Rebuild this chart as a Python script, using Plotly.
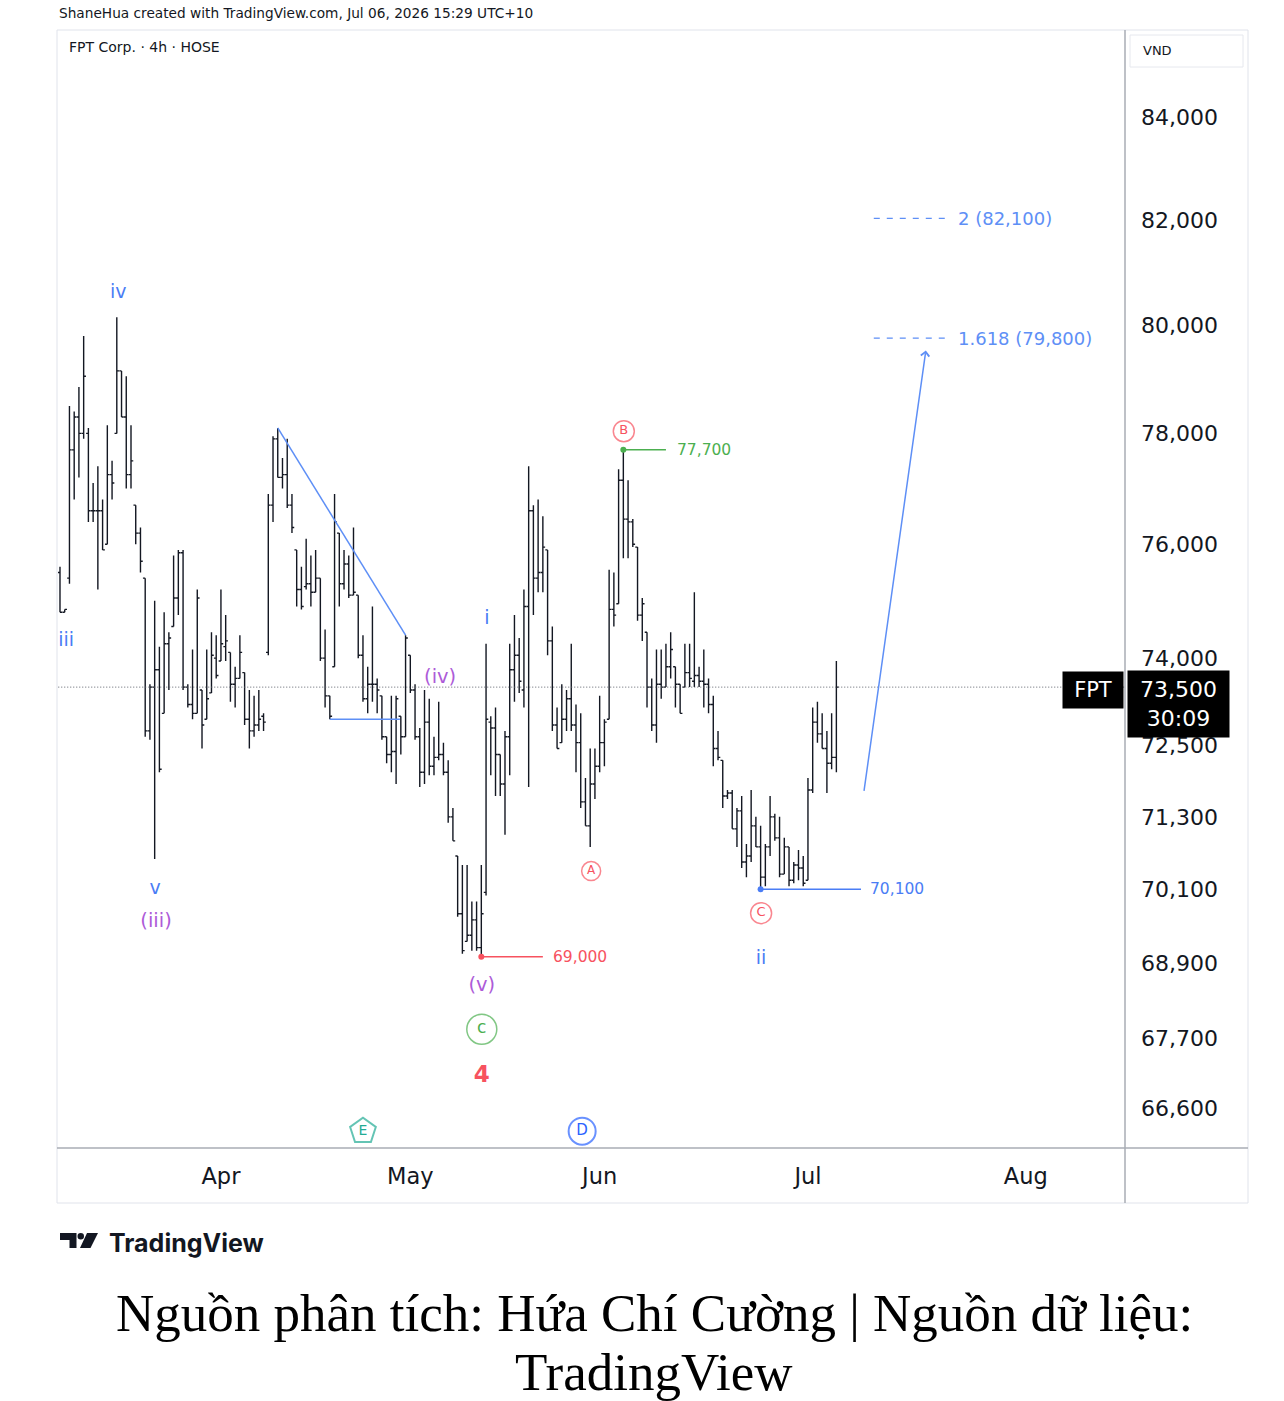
import math
import plotly.graph_objects as go

# ---------------- data ----------------
bar_index = list(range(165))
opens = [75500, 74800, 75400, 77700, 78300, 78000, 78000, 76600, 76600, 76600,
         76000, 77250, 78000, 79150, 78300, 77250, 76700, 76200, 75400, 72750,
         73500, 73800, 73050, 74250, 74550, 75050, 75850, 73500, 73200, 73050,
         73450, 72950, 73400, 74000, 73950, 74200, 74100, 73550, 73650, 73750,
         72950, 72750, 72850, 73000, 74100, 76700, 77900, 77200, 77250, 76700,
         75900, 75200, 75250, 75300, 75150, 75400, 74000, 73350, 73850, 76200,
         75300, 75650, 75100, 75100, 74050, 73300, 73550, 73550, 73350, 72650,
         72350, 72400, 73000, 72650, 74050, 73450, 72650, 72050, 72900, 72150,
         72300, 72350, 72050, 71300, 70650, 69700, 69250, 69350, 69600, 69150,
         70050, 72900, 72800, 72350, 71850, 72650, 73800, 74050, 73450, 74900,
         76600, 75400, 75500, 75900, 74300, 72850, 72550, 72950, 73300, 72850,
         72550, 71550, 71150, 71850, 72150, 72550, 72950, 74850, 74950, 77150,
         76450, 76400, 75950, 74750, 74450, 73500, 72850, 73550, 73500, 73850,
         73850, 73550, 73500, 73750, 73600, 73700, 73600, 73550, 73200, 72450,
         72250, 71650, 71700, 71100, 71400, 70550, 70650, 71150, 70800, 70300,
         70800, 71300, 70950, 70350, 70800, 70250, 70500, 70450, 70250, 71750,
         72900, 72700, 72450, 72200, 72300]
highs = [75600, 74850, 78500, 78400, 78850, 79800, 78100, 77100, 77400, 76800,
         78150, 77500, 80150, 79150, 79050, 78150, 76700, 76300, 75400, 73550,
         75000, 74200, 74800, 74450, 75800, 75900, 75900, 73550, 74150, 75200,
         73450, 74150, 74450, 74400, 75200, 74750, 74100, 73850, 74400, 73750,
         73450, 73350, 73450, 73050, 76900, 77950, 78100, 77550, 77900, 76900,
         75900, 75600, 76100, 75800, 75900, 75400, 74500, 73350, 76900, 76200,
         75900, 75800, 76300, 75100, 74400, 73850, 74900, 73650, 73350, 72650,
         73350, 73350, 73000, 74400, 74050, 73550, 72800, 73450, 73300, 72650,
         73250, 72550, 72250, 71450, 70650, 70500, 70500, 69900, 69900, 70500,
         74250, 73000, 73150, 72350, 72750, 74250, 74750, 74350, 75200, 77400,
         76700, 76800, 76500, 75900, 74550, 73150, 73550, 73450, 74250, 73200,
         73050, 71950, 72450, 72450, 73350, 72950, 75550, 75500, 77350, 77700,
         77150, 76450, 75950, 75050, 74450, 73650, 74150, 74150, 74250, 74450,
         73850, 73550, 74250, 74250, 75150, 73850, 74150, 73650, 73350, 72750,
         72250, 71750, 71750, 71450, 71650, 70850, 71750, 71300, 71150, 70850,
         71650, 71350, 71300, 70950, 70800, 70550, 70750, 70650, 71950, 73150,
         73250, 73050, 72750, 73050, 73950]
lows = [74800, 74800, 75300, 76800, 77200, 77900, 76400, 76400, 75200, 75900,
        76000, 76800, 78000, 78300, 77000, 77000, 76000, 75500, 72650, 72600,
        70600, 72050, 73050, 73450, 74550, 74750, 73450, 73150, 72950, 73050,
        72450, 72950, 73400, 73650, 73950, 73950, 73250, 73150, 73650, 72850,
        72450, 72650, 72750, 72750, 74050, 76400, 77200, 77000, 76650, 76200,
        74900, 74850, 75200, 74900, 75150, 73950, 73150, 72950, 73850, 74900,
        75200, 75050, 75100, 74000, 73250, 73050, 73250, 73050, 72600, 72200,
        72050, 71850, 72350, 72650, 73400, 72600, 71800, 71850, 72000, 72000,
        72250, 72000, 71200, 70900, 69650, 69050, 69250, 69100, 69100, 69000,
        70000, 72000, 71650, 71650, 71000, 72000, 73250, 73400, 73150, 71800,
        74750, 75150, 75150, 74050, 72750, 72450, 72550, 72750, 72750, 72050,
        71450, 71150, 70800, 71600, 72050, 72150, 72950, 74550, 74950, 75750,
        75750, 75950, 74650, 74300, 73150, 72750, 72550, 73300, 73500, 73650,
        73150, 73050, 73500, 73500, 73500, 73500, 73150, 73050, 72150, 72250,
        71450, 71600, 71100, 70800, 70450, 70300, 70550, 70800, 70100, 70150,
        70650, 70900, 70300, 70350, 70150, 70200, 70250, 70150, 70250, 71700,
        72550, 72450, 71700, 72100, 72050]
closes = [74800, 74850, 77700, 78300, 78000, 79050, 76600, 76600, 76600, 75900,
          77250, 77100, 79150, 78300, 77250, 77500, 76200, 75700, 72750, 73500,
          73800, 72100, 74250, 74350, 75050, 75850, 73500, 73200, 73050, 75050,
          72850, 73300, 74050, 73700, 74250, 74300, 73550, 73650, 74100, 72950,
          72750, 72850, 72950, 72900, 76700, 77900, 77200, 77250, 76700, 76300,
          75200, 74900, 75300, 75150, 75400, 74000, 73350, 73000, 76400, 75300,
          75650, 75100, 75150, 74050, 73300, 73550, 73550, 73450, 72650, 72350,
          72400, 73300, 72650, 74350, 73450, 72650, 72050, 72900, 72150, 72300,
          72350, 72050, 71300, 70900, 69700, 69100, 69350, 69600, 69150, 69700,
          72950, 72800, 72350, 71850, 72650, 73800, 74050, 73600, 74900, 76600,
          75400, 75500, 75950, 74300, 72850, 72450, 72950, 73300, 72850, 72550,
          71550, 71150, 71850, 72150, 72550, 72900, 74850, 74750, 77150, 76450,
          76400, 76000, 74750, 74950, 73500, 72850, 73550, 73500, 73850, 74150,
          73550, 73050, 73750, 73650, 73700, 73600, 73550, 73200, 72450, 72300,
          71650, 71700, 71100, 71400, 70550, 70650, 71150, 70800, 70300, 70800,
          71300, 70950, 70350, 70800, 70250, 70500, 70450, 70200, 71750, 72900,
          72700, 72450, 72200, 72300, 73500]

month_ticks = [34, 74, 114, 158, 204]
month_labels = ["Apr", "May", "Jun", "Jul", "Aug"]
price_ticks = [84000, 82000, 80000, 78000, 76000, 74000, 72500, 71300, 70100, 68900, 67700, 66600]
price_tick_text = ["84,000", "82,000", "80,000", "78,000", "76,000", "74,000",
                   "72,500", "71,300", "70,100", "68,900", "67,700", "66,600"]

symbol = "FPT"
last_price = closes[-1]
countdown = "30:09"

# Elliott wave labels: text, bar index, price position
wave_text = ["iii", "iv", "v", "(iii)", "(iv)", "(v)", "i", "ii", "<b>4</b>"]
wave_x = [1.3, 12.3, 20.1, 20.3, 80.3, 89.1, 90.2, 148.1, 89.1]
wave_y = [74300, 80600, 70100, 69570, 73650, 68530, 74670, 68960, 67100]
wave_kind = ["blue", "blue", "blue", "purple", "purple", "purple", "blue", "blue", "red"]

# circled labels
circ_text = ["B", "A", "C", "c"]
circ_x = [119.1, 112.2, 148.1, 89.1]
circ_y = [78040, 70400, 69710, 67840]
circ_kind = ["red", "red", "red", "green"]

# horizontal price levels (start bar, end bar, price, label bar)
level_start = [119, 89, 148]
level_end = [128.0, 102.0, 169.2]
level_price = [77700, 69000, 70100]
level_label_x = [130.0, 103.8, 170.6]
level_kind = ["green", "red", "blue"]

# fibonacci targets (line level, label text as printed)
fib_levels = [82030, 79760]
fib_text = ["2 (82,100)", "1.618 (79,800)"]
fib_start = 171.9
fib_end = 187.2
fib_label_x = 189.3

# projection arrow (bar, price)
arrow_from = (169.8, 71710)
arrow_to = (182.9, 79530)

# trend lines
diag_bars = [46, 73]
flat_bars = [57, 71.8]

# events
event_text = ["E", "D"]
event_x = [64.0, 110.3]
event_y = [66240, 66240]

# ---------------- styling ----------------
COL = {"blue": "#4a7df5", "purple": "#ad5bd8", "red": "#f7525f", "green": "#4caf50"}
FIB = "#5e8ff6"
INK = "#131722"

W, H = 1284, 1401
L, R, T, B = 58, 159, 30, 253
PW, PH = W - L - R, H - T - B


def px(xp):
    return (xp - L) / PW


def py(yp):
    return (H - B - yp) / PH


fig = go.Figure()

fig.add_trace(go.Ohlc(
    x=bar_index, open=opens, high=highs, low=lows, close=closes,
    increasing=dict(line=dict(color=INK, width=1.4)),
    decreasing=dict(line=dict(color=INK, width=1.4)),
    tickwidth=0.48, hoverinfo="skip", showlegend=False))

# last price dotted line
fig.add_trace(go.Scatter(x=[-1, 230], y=[last_price, last_price], mode="lines",
                         line=dict(color="#5d606b", width=1, dash="1px,2px"),
                         hoverinfo="skip", showlegend=False))

# trend lines
fig.add_trace(go.Scatter(x=diag_bars, y=[highs[diag_bars[0]], highs[diag_bars[1]]], mode="lines",
                         line=dict(color=FIB, width=1.5), hoverinfo="skip", showlegend=False))
fig.add_trace(go.Scatter(x=flat_bars, y=[lows[flat_bars[0]], lows[flat_bars[0]]], mode="lines",
                         line=dict(color=FIB, width=1.5), hoverinfo="skip", showlegend=False))

# price levels
for s, e, p, k in zip(level_start, level_end, level_price, level_kind):
    fig.add_trace(go.Scatter(x=[s, e], y=[p, p], mode="lines",
                             line=dict(color=COL[k], width=1.5), hoverinfo="skip", showlegend=False))
    fig.add_trace(go.Scatter(x=[s], y=[p], mode="markers",
                             marker=dict(color=COL[k], size=6), hoverinfo="skip", showlegend=False))

# fib lines
for lv in fib_levels:
    fig.add_trace(go.Scatter(x=[fib_start, fib_end], y=[lv, lv], mode="lines",
                             line=dict(color=FIB, width=1.3, dash="6px,7px"),
                             hoverinfo="skip", showlegend=False))

# wave labels
fig.add_trace(go.Scatter(
    x=wave_x, y=wave_y, mode="text", text=wave_text, textposition="middle center",
    textfont=dict(family="DejaVu Sans", size=[19, 19, 19, 19.5, 19.5, 19.5, 19, 19, 23],
                  color=[COL[k] for k in wave_kind]),
    cliponaxis=False, hoverinfo="skip", showlegend=False))

# circled labels
fig.add_trace(go.Scatter(
    x=circ_x, y=circ_y, mode="markers+text", text=circ_text, textposition="middle center",
    marker=dict(symbol="circle-open", size=[21, 19, 21, 30],
                color=[COL[k] for k in circ_kind], line=dict(width=1.5)),
    textfont=dict(family="DejaVu Sans", size=[13, 12, 13, 17],
                  color=[COL[k] for k in circ_kind]),
    cliponaxis=False, hoverinfo="skip", showlegend=False))

# events
fig.add_trace(go.Scatter(
    x=event_x, y=event_y, mode="markers+text", text=event_text, textposition="middle center",
    marker=dict(symbol=["pentagon-open", "circle-open"], size=[27, 27],
                color=["#22ab94", "#2962ff"], line=dict(width=2)),
    textfont=dict(family="DejaVu Sans", size=[14, 15], color=["#22ab94", "#2962ff"]),
    cliponaxis=False, hoverinfo="skip", showlegend=False))

ann = []
for p, lx, k in zip(level_price, level_label_x, level_kind):
    ann.append(dict(x=lx, y=math.log10(p), xref="x", yref="y", text=f"{p:,}",
                    showarrow=False, xanchor="left", yanchor="middle",
                    font=dict(family="DejaVu Sans", size=15.5, color=COL[k])))
for lv, t in zip(fib_levels, fib_text):
    ann.append(dict(x=fib_label_x, y=math.log10(lv), xref="x", yref="y", text=t,
                    showarrow=False, xanchor="left", yanchor="middle",
                    font=dict(family="DejaVu Sans", size=18, color=FIB)))
# projection arrow
ann.append(dict(x=arrow_to[0], y=math.log10(arrow_to[1]), xref="x", yref="y",
                ax=arrow_from[0], ay=math.log10(arrow_from[1]), axref="x", ayref="y",
                text="", showarrow=True, arrowhead=4, arrowsize=1.1, arrowwidth=1.5,
                arrowcolor=FIB, standoff=0))
# symbol & price boxes
ann.append(dict(x=1.0, xref="paper", xshift=-1, y=math.log10(last_price), yref="y", yshift=-3,
                text=symbol, showarrow=False, xanchor="right", yanchor="middle",
                bgcolor="#000000", borderpad=3, width=54, height=30,
                font=dict(family="DejaVu Sans", size=21, color="white")))
ann.append(dict(x=1.0, xref="paper", xshift=2, y=math.log10(last_price), yref="y", yshift=17,
                text=f"{last_price:,}<br>{countdown}", showarrow=False,
                xanchor="left", yanchor="top", align="center", valign="middle",
                bgcolor="#000000", borderpad=2, width=97, height=62,
                font=dict(family="DejaVu Sans", size=22, color="white")))
# header texts
ann.append(dict(x=px(57), y=py(13), xref="paper", yref="paper", xanchor="left", yanchor="middle",
                text="ShaneHua created with TradingView.com, Jul 06, 2026 15:29 UTC+10",
                showarrow=False, font=dict(family="DejaVu Sans", size=13.7, color=INK)))
ann.append(dict(x=px(67), y=py(47), xref="paper", yref="paper", xanchor="left", yanchor="middle",
                text="FPT Corp. · 4h · HOSE",
                showarrow=False, font=dict(family="DejaVu Sans", size=14, color=INK)))
ann.append(dict(x=px(1141), y=py(51), xref="paper", yref="paper", xanchor="left", yanchor="middle",
                text="VND", showarrow=False, font=dict(family="DejaVu Sans", size=13, color=INK)))
# TradingView brand
ann.append(dict(x=px(107), y=py(1243), xref="paper", yref="paper", xanchor="left", yanchor="middle",
                text="<b>TradingView</b>", showarrow=False,
                font=dict(family="Inter", size=25, color=INK)))
# caption
ann.append(dict(x=px(654), y=py(1313), xref="paper", yref="paper", xanchor="center", yanchor="middle",
                text="Nguồn phân tích: Hứa Chí Cường | Nguồn dữ liệu:", showarrow=False,
                font=dict(family="Liberation Serif", size=53, color="black")))
ann.append(dict(x=px(654), y=py(1372), xref="paper", yref="paper", xanchor="center", yanchor="middle",
                text="TradingView", showarrow=False,
                font=dict(family="Liberation Serif", size=53, color="black")))

AX = "#a9acb5"
shapes = [
    # outer frame
    dict(type="rect", xref="paper", yref="paper", x0=px(57), x1=px(1248), y0=py(1203), y1=py(30),
         line=dict(color="#e0e3eb", width=1), layer="below"),
    # price-scale separator and time axis line
    dict(type="line", xref="paper", yref="paper", x0=1, x1=1, y0=py(1203), y1=py(30),
         line=dict(color=AX, width=1.5)),
    dict(type="line", xref="paper", yref="paper", x0=px(57), x1=px(1248), y0=0, y1=0,
         line=dict(color=AX, width=1.5)),
    # VND box
    dict(type="rect", xref="paper", yref="paper", x0=px(1130), x1=px(1243), y0=py(67), y1=py(35),
         line=dict(color="#e6e8ee", width=1)),
    # TradingView logo
    dict(type="path", xref="paper", yref="paper", fillcolor=INK, line=dict(width=0),
         path=f"M {px(60)},{py(1233)} L {px(76.5)},{py(1233)} L {px(76.5)},{py(1248)} "
              f"L {px(69.5)},{py(1248)} L {px(69.5)},{py(1240)} L {px(60)},{py(1240)} Z"),
    dict(type="circle", xref="paper", yref="paper", fillcolor=INK, line=dict(width=0),
         x0=px(77.5), x1=px(84), y0=py(1239.5), y1=py(1233)),
    dict(type="path", xref="paper", yref="paper", fillcolor=INK, line=dict(width=0),
         path=f"M {px(87)},{py(1233)} L {px(98)},{py(1233)} L {px(90.5)},{py(1248)} "
              f"L {px(80)},{py(1248)} Z"),
]

fig.update_layout(
    width=W, height=H, margin=dict(l=L, r=R, t=T, b=B, autoexpand=False),
    paper_bgcolor="white", plot_bgcolor="white", showlegend=False,
    annotations=ann, shapes=shapes,
    xaxis=dict(range=[-0.42, 224.97], tickvals=month_ticks, ticktext=month_labels,
               showgrid=False, zeroline=False, showline=False, ticks="",
               ticklabelstandoff=12,
               tickfont=dict(family="DejaVu Sans", size=22.5, color=INK)),
    yaxis=dict(type="log", range=[math.log10(65979), math.log10(85729)], side="right",
               tickvals=price_ticks, ticktext=price_tick_text,
               showgrid=False, zeroline=False, showline=False, ticks="",
               ticklabelstandoff=15,
               tickfont=dict(family="DejaVu Sans", size=22, color=INK)),
)
fig.update_xaxes(rangeslider_visible=False)

fig.write_html("out.html")
